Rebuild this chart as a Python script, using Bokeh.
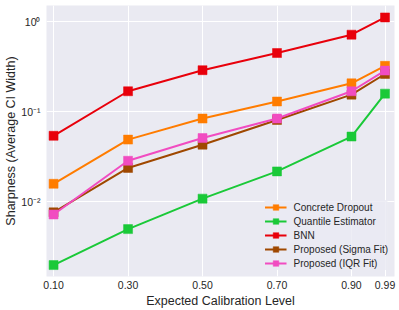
from bokeh.plotting import figure
from bokeh.models import FixedTicker, Legend, LegendItem
from bokeh.embed import file_html
from bokeh.resources import INLINE

levels = [0.10, 0.30, 0.50, 0.70, 0.90, 0.99]
x_tick_labels = ["0.10", "0.30", "0.50", "0.70", "0.90", "0.99"]
y_ticks = [0.01, 0.1, 1.0]
y_tick_labels = ["10\u207b\u00b2", "10\u207b\u00b9", "10\u2070"]

concrete_dropout = [0.0158, 0.049, 0.084, 0.130, 0.207, 0.324]
quantile_estimator = [0.00197, 0.00495, 0.0108, 0.0217, 0.053, 0.159]
bnn = [0.054, 0.169, 0.290, 0.450, 0.720, 1.12]
sigma_fit = [0.0076, 0.0237, 0.043, 0.081, 0.155, 0.263]
iqr_fit = [0.0072, 0.0285, 0.051, 0.084, 0.169, 0.287]

series = [
    ("Concrete Dropout", concrete_dropout, "#ff7c00"),
    ("Quantile Estimator", quantile_estimator, "#1ac938"),
    ("BNN", bnn, "#e8000b"),
    ("Proposed (Sigma Fit)", sigma_fit, "#9f4800"),
    ("Proposed (IQR Fit)", iqr_fit, "#f14cc1"),
]

FONT = "Liberation Sans"
BG = "#eaeaf2"
TXT = "#262626"

p = figure(width=399, height=310, y_axis_type="log",
           x_range=(0.081, 1.0155), y_range=(0.00147, 1.52),
           output_backend="svg", toolbar_location=None,
           background_fill_color=BG, border_fill_color="white",
           min_border=0, min_border_left=46, min_border_right=5,
           min_border_top=5, min_border_bottom=34)
p.outline_line_color = None

items = []
for name, vals, color in series:
    r1 = p.line(levels, vals, line_color=color, line_width=2)
    r2 = p.scatter(levels, vals, marker="square", size=9,
                   fill_color=color, line_color=color, line_width=0.5)
    items.append(LegendItem(label=name, renderers=[r1, r2]))

# axes
p.xaxis.ticker = FixedTicker(ticks=levels, minor_ticks=[])
p.xaxis.major_label_overrides = {v: s for v, s in zip(levels, x_tick_labels)}
p.yaxis.ticker = FixedTicker(ticks=y_ticks, minor_ticks=[])
p.yaxis.major_label_overrides = {v: s for v, s in zip(y_ticks, y_tick_labels)}

for ax in (p.xaxis, p.yaxis):
    ax.axis_line_color = None
    ax.major_tick_line_color = None
    ax.minor_tick_line_color = None
    ax.major_tick_out = 0
    ax.major_tick_in = 0
    ax.major_label_text_font = FONT
    ax.major_label_text_font_size = "10.5px"
    ax.major_label_text_color = TXT
    ax.axis_label_text_font = FONT
    ax.axis_label_text_font_size = "12.5px"
    ax.axis_label_text_font_style = "normal"
    ax.axis_label_text_color = TXT

p.xaxis.axis_label = "Expected Calibration Level"
p.yaxis.axis_label = "Sharpness (Average CI Width)"
p.xaxis.major_label_standoff = 4
p.xaxis.axis_label_standoff = 2
p.yaxis.major_label_standoff = 6
p.yaxis.axis_label_standoff = 0

p.xgrid.grid_line_color = "white"
p.ygrid.grid_line_color = "white"
p.xgrid.grid_line_width = 1
p.ygrid.grid_line_width = 1
p.xgrid.minor_grid_line_color = None
p.ygrid.minor_grid_line_color = None

legend = Legend(items=items, location="bottom_right")
legend.background_fill_color = BG
legend.background_fill_alpha = 0.8
legend.border_line_color = None
legend.label_text_font = FONT
legend.label_text_font_size = "10px"
legend.label_text_color = TXT
legend.glyph_width = 22
legend.glyph_height = 14
legend.label_height = 14
legend.label_standoff = 7
legend.spacing = 0
legend.padding = 4
legend.margin = 6
p.add_layout(legend)

open("out.html", "w").write(file_html(p, INLINE))
